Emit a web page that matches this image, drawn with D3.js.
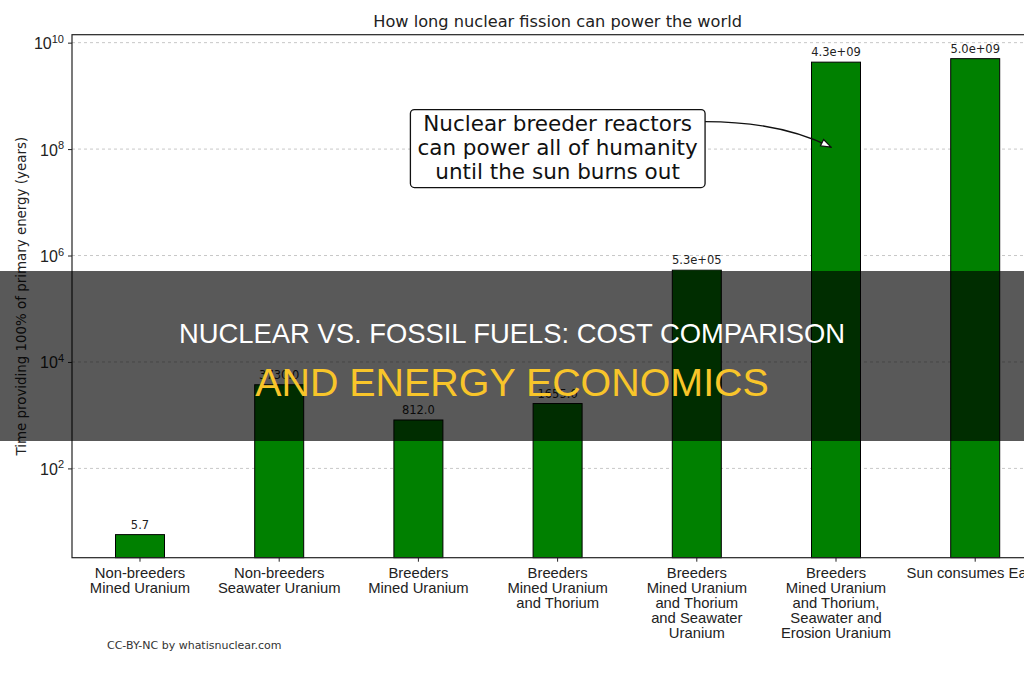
<!DOCTYPE html>
<html>
<head>
<meta charset="utf-8">
<script src="https://cdn.jsdelivr.net/npm/d3@7"></script>
<style>
  html, body { margin: 0; padding: 0; background: #fff; }
  svg { display: block; font-family: "DejaVu Sans", sans-serif; }
</style>
</head>
<body>
<svg id="chart" width="1024" height="680"></svg>
<script>
// ---- data ----
const categories = [
  "Non-breeders\nMined Uranium",
  "Non-breeders\nSeawater Uranium",
  "Breeders\nMined Uranium",
  "Breeders\nMined Uranium\nand Thorium",
  "Breeders\nMined Uranium\nand Thorium\nand Seawater\nUranium",
  "Breeders\nMined Uranium\nand Thorium,\nSeawater and\nErosion Uranium",
  "Sun consumes Earth"
];
const years = [5.7, 3730, 812, 1655, 5.3e5, 4.3e9, 5.0e9];
const yTickValues = [1e2, 1e4, 1e6, 1e8, 1e10];
const yDomain = [2.1, 1.41e10];
const titleText = "How long nuclear fission can power the world";
const yLabelText = "Time providing 100% of primary energy (years)";
const annotationLines = ["Nuclear breeder reactors", "can power all of humanity", "until the sun burns out"];
const annotationAt = { category: 3, value: 1e8 };
const annotationTarget = { category: 5, value: 1e8 };
const creditText = "CC-BY-NC by whatisnuclear.com";
const overlayLines = ["NUCLEAR VS. FOSSIL FUELS: COST COMPARISON", "AND ENERGY ECONOMICS"];

// ---- layout ----
const W = 1024, H = 680;
const plot = { left: 72, top: 34.7, right: 1043.2, bottom: 557.7 };
const svg = d3.select("#chart");

const x = d3.scaleBand()
  .domain(d3.range(categories.length))
  .range([plot.left, plot.right])
  .paddingInner(0.648)
  .paddingOuter(0.3125);
const y = d3.scaleLog().domain(yDomain).range([plot.bottom, plot.top]);

// grid
svg.append("g").selectAll("line").data(yTickValues).join("line")
  .attr("x1", plot.left).attr("x2", plot.right)
  .attr("y1", d => y(d)).attr("y2", d => y(d))
  .attr("stroke", "#c8c8c8").attr("stroke-width", 1)
  .attr("stroke-dasharray", "3,3");

// bars
svg.append("g").selectAll("rect").data(years).join("rect")
  .attr("x", (d, i) => x(i))
  .attr("width", x.bandwidth())
  .attr("y", d => y(d))
  .attr("height", d => plot.bottom - y(d))
  .attr("fill", "#008000")
  .attr("stroke", "#000").attr("stroke-width", 1);

// value labels
function fmt(v) {
  if (v < 1e4) return v.toFixed(1);
  const e = Math.floor(Math.log10(v));
  const m = (v / Math.pow(10, e)).toFixed(1);
  return m + "e+" + String(e).padStart(2, "0");
}
svg.append("g").selectAll("text").data(years).join("text")
  .attr("x", (d, i) => x(i) + x.bandwidth() / 2)
  .attr("y", d => y(d) - 6)
  .attr("text-anchor", "middle")
  .attr("font-size", 11.5)
  .attr("fill", "#222")
  .text(d => fmt(d));

// spines
svg.append("rect")
  .attr("x", plot.left).attr("y", plot.top)
  .attr("width", plot.right - plot.left).attr("height", plot.bottom - plot.top)
  .attr("fill", "none").attr("stroke", "#222").attr("stroke-width", 1.2);

// y axis
const yAxis = svg.append("g")
  .attr("transform", `translate(${plot.left},0)`)
  .call(d3.axisLeft(y).tickValues(yTickValues).tickSize(4).tickFormat(() => ""));
yAxis.select(".domain").remove();
yAxis.selectAll(".tick line").attr("stroke", "#222");
yAxis.selectAll(".tick").each(function(d) {
  const t = d3.select(this).append("text")
    .attr("x", -8).attr("y", 6)
    .attr("text-anchor", "end")
    .attr("fill", "#222")
    .attr("font-size", 16);
  t.append("tspan").text("10");
  t.append("tspan").attr("font-size", 11).attr("dy", -6.5).text(String(Math.round(Math.log10(d))));
});

// x axis
const xAxis = svg.append("g")
  .attr("transform", `translate(0,${plot.bottom})`)
  .call(d3.axisBottom(x).tickSize(4).tickFormat(() => ""));
xAxis.select(".domain").remove();
xAxis.selectAll(".tick line").attr("stroke", "#222");
xAxis.selectAll(".tick").each(function(d) {
  const lines = categories[d].split("\n");
  const t = d3.select(this).append("text")
    .attr("text-anchor", "middle")
    .attr("fill", "#222")
    .attr("font-size", 14.8);
  lines.forEach((ln, k) => {
    t.append("tspan").attr("x", 0).attr("y", 20 + k * 15).text(ln);
  });
});

// title
svg.append("text")
  .attr("x", (plot.left + plot.right) / 2).attr("y", 26.5)
  .attr("text-anchor", "middle")
  .attr("font-size", 16.2).attr("fill", "#222")
  .text(titleText);

// y label
svg.append("text")
  .attr("transform", `translate(25.5,${(plot.top + plot.bottom) / 2}) rotate(-90)`)
  .attr("text-anchor", "middle")
  .attr("font-size", 13.4).attr("fill", "#222")
  .text(yLabelText);

// credit
svg.append("text")
  .attr("x", 107).attr("y", 649)
  .attr("font-size", 11).attr("fill", "#333")
  .text(creditText);

// annotation
const ax = x(annotationAt.category) + x.bandwidth() / 2;
const ay = y(annotationAt.value);
const ann = svg.append("g");
const annBox = ann.append("rect");
const annText = ann.append("text")
  .attr("text-anchor", "middle")
  .attr("font-size", 21.5).attr("fill", "#111");
annotationLines.forEach((ln, k) => {
  annText.append("tspan").attr("x", ax).attr("y", ay + 5.5 + (k - 1) * 24).text(ln);
});
const bb = annText.node().getBBox();
const boxL = bb.x - 7, boxR = bb.x + bb.width + 7, boxT = bb.y - 1, boxB = bb.y + bb.height + 4;
annBox.attr("x", boxL).attr("y", boxT)
  .attr("width", boxR - boxL).attr("height", boxB - boxT)
  .attr("rx", 4).attr("ry", 4)
  .attr("fill", "#fff").attr("stroke", "#111").attr("stroke-width", 1.3);

svg.append("defs").append("marker")
  .attr("id", "ah").attr("viewBox", "0 0 12 10")
  .attr("refX", 11).attr("refY", 5)
  .attr("markerWidth", 12).attr("markerHeight", 10)
  .attr("markerUnits", "userSpaceOnUse")
  .attr("orient", "auto")
  .append("path").attr("d", "M1,1.5 L11,5 L1,8.5 Z")
  .attr("fill", "#fff").attr("stroke", "#111").attr("stroke-width", 1.2);

const tx = x(annotationTarget.category) + x.bandwidth() / 2 - 5;
const ty = y(annotationTarget.value) - 2;
const sx = boxR, sy = boxT + 12;
svg.append("path")
  .attr("d", `M${sx},${sy} Q${sx + 75},${sy} ${tx},${ty}`)
  .attr("fill", "none").attr("stroke", "#111").attr("stroke-width", 1.4)
  .attr("marker-end", "url(#ah)");

// overlay band
svg.append("rect")
  .attr("x", 0).attr("y", 271).attr("width", W).attr("height", 170)
  .attr("fill", "#000").attr("fill-opacity", 0.65);
svg.append("text")
  .attr("x", W / 2).attr("y", 343)
  .attr("text-anchor", "middle")
  .attr("font-family", "'Liberation Sans', Arial, sans-serif")
  .attr("font-size", 27.4).attr("fill", "#ffffff")
  .text(overlayLines[0]);
svg.append("text")
  .attr("x", W / 2).attr("y", 396)
  .attr("text-anchor", "middle")
  .attr("font-family", "'Liberation Sans', Arial, sans-serif")
  .attr("font-size", 39.4).attr("fill", "#f8c52a")
  .text(overlayLines[1]);
</script>
</body>
</html>
